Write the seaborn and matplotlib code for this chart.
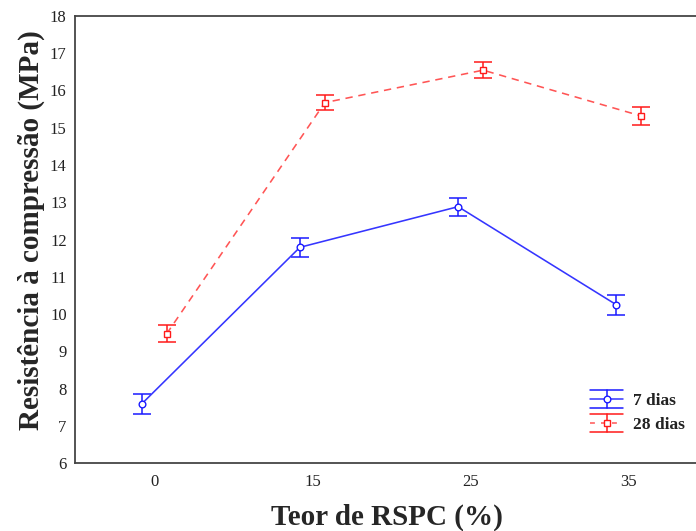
import numpy as np
import pandas as pd
import matplotlib
matplotlib.use("Agg")
import matplotlib.pyplot as plt
from matplotlib.lines import Line2D
from matplotlib.legend_handler import HandlerBase
import seaborn as sns

# ---- data -------------------------------------------------------------
teor = ["0", "15", "25", "35"]
idades = ["7 dias", "28 dias"]
res_7 = [7.59, 11.79, 12.88, 10.25]
err_7 = [0.26, 0.25, 0.24, 0.27]
res_28 = [9.47, 15.67, 16.54, 15.31]
err_28 = [0.23, 0.21, 0.21, 0.24]
y_ticks = list(range(6, 19))

df = pd.DataFrame({
    "teor": teor * 2,
    "idade": [idades[0]] * len(teor) + [idades[1]] * len(teor),
    "res": res_7 + res_28,
})
errors = {idades[0]: err_7, idades[1]: err_28}

# ---- style ------------------------------------------------------------
sns.set_style("white")
plt.rcParams["font.family"] = ["Liberation Serif", "DejaVu Serif"]

blue_mark, blue_line = "#1a1aff", "#3535ff"
red_mark, red_line = "#ff1a1a", "#ff5555"
spine_col = "#454545"

fig = plt.figure(figsize=(6.96, 5.31), dpi=100)
W, H = 696, 531
ax = fig.add_axes([75 / W, (H - 463.3) / H, (708 - 75) / W, (463.3 - 15.7) / H])

sns.pointplot(
    data=df, x="teor", y="res", hue="idade", order=teor, hue_order=idades,
    palette=[blue_mark, red_mark], markers=["o", "s"], linestyles=["-", "--"],
    dodge=0.158, errorbar=None, legend=False, ax=ax,
    markersize=4.8, linewidth=1.15, markeredgewidth=1.0,
)

line_cols = {idades[0]: (blue_line, blue_mark), idades[1]: (red_line, red_mark)}
data_lines = [ln for ln in ax.lines if len(ln.get_xdata()) == len(teor)]
for ln, name in zip(data_lines, idades):
    lc, mc = line_cols[name]
    ln.set_color(lc)
    ln.set_markeredgecolor(mc)
    ln.set_markerfacecolor("white")
    ln.set_zorder(4)
    if name == idades[1]:
        ln.set_dashes((4.6, 3.6))
    x = np.asarray(ln.get_xdata(), dtype=float)
    y = np.asarray(ln.get_ydata(), dtype=float)
    ax.errorbar(x, y, yerr=errors[name], fmt="none", ecolor=mc,
                elinewidth=1.1, capsize=6.2, capthick=1.1, zorder=3)

ax.set_xlim(-0.5, 3.5)
ax.set_ylim(6, 18)
ax.set_yticks(y_ticks)
ax.set_yticklabels([str(t) for t in y_ticks])

for side in ["left", "bottom", "top", "right"]:
    ax.spines[side].set_color(spine_col)
    ax.spines[side].set_linewidth(1.3)
ax.tick_params(axis="both", direction="in", length=3, width=1,
               color=spine_col, labelsize=12, labelcolor="#222222")
ax.tick_params(axis="y", pad=6)
ax.tick_params(axis="x", pad=8)

ax.set_xlabel("Teor de RSPC (%)", fontsize=21, fontweight="bold")
ax.set_ylabel("Resistência à compressão (MPa)", fontsize=21, fontweight="bold")
ax.xaxis.set_label_coords((387 - 75) / (708 - 75), -0.09)
ax.yaxis.set_label_coords(-0.047, 0.52)


# ---- legend: bar-style handles with caps spanning the handle width ----
class SeriesKey:
    def __init__(self, color, line_color, marker, dashed):
        self.color = color
        self.line_color = line_color
        self.marker = marker
        self.dashed = dashed


class CapHandler(HandlerBase):
    def create_artists(self, legend, key, xdescent, ydescent, width, height,
                       fontsize, trans):
        x0, x1 = -xdescent, -xdescent + width
        xm = (x0 + x1) / 2
        yc = height / 2 - ydescent
        h = 6.6
        arts = []
        for yy in (yc + h, yc - h):
            arts.append(Line2D([x0, x1], [yy, yy], color=key.color, lw=1.1))
        arts.append(Line2D([xm, xm], [yc - h, yc + h], color=key.color, lw=1.1))
        mid = Line2D([x0, x1], [yc, yc], color=key.line_color, lw=1.1)
        if key.dashed:
            mid.set_dashes((3.2, 4.0))
        arts.append(mid)
        arts.append(Line2D([xm], [yc], marker=key.marker, ms=4.8, mew=1.0,
                           mec=key.color, mfc="white", ls="none"))
        for a in arts:
            a.set_transform(trans)
        return arts


keys = [SeriesKey(blue_mark, blue_line, "o", False),
        SeriesKey(red_mark, red_line, "s", True)]
leg = ax.legend(keys, idades, handler_map={SeriesKey: CapHandler()},
                loc="upper left", bbox_to_anchor=(590 / W, 1 - 393 / H),
                bbox_transform=fig.transFigure, frameon=False,
                borderpad=0, borderaxespad=0, handlelength=1.92,
                handletextpad=0.55, labelspacing=0.45,
                prop={"size": 12.5, "weight": "bold"})
for t in leg.get_texts():
    t.set_color("#222222")

fig.savefig("out.png", dpi=100)
